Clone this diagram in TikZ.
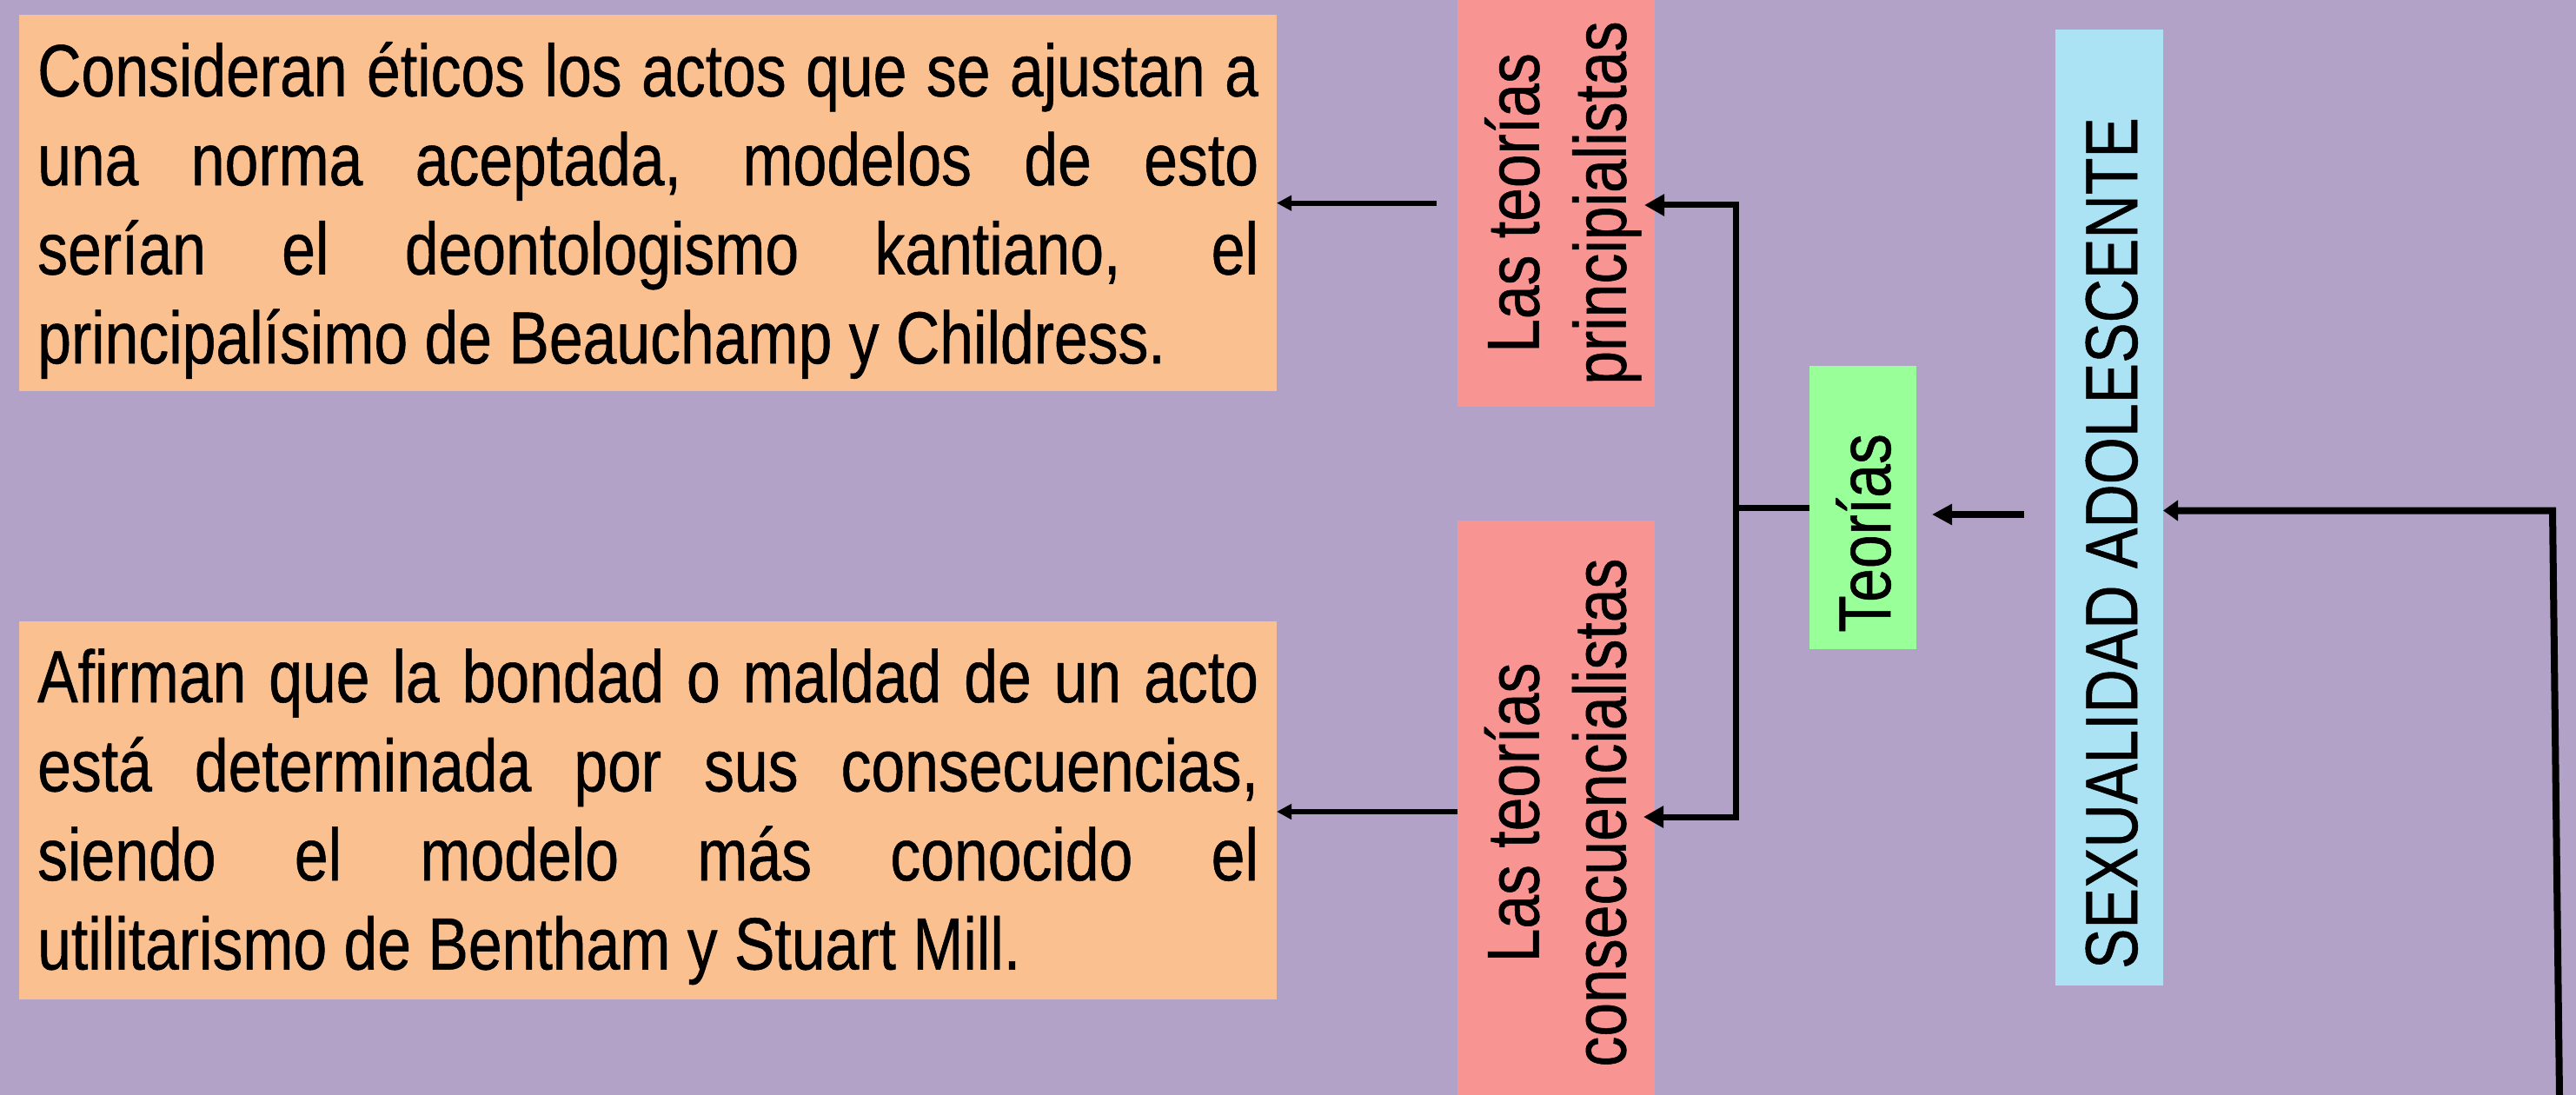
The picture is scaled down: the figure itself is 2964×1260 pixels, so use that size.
\documentclass[tikz,border=0pt]{standalone}
\usepackage{fontspec}
\setmainfont{Liberation Sans}[FakeStretch=0.82,FakeBold=0.6]
\usetikzlibrary{arrows.meta}
\definecolor{bgc}{RGB}{178,162,199}
\definecolor{orc}{RGB}{250,192,144}
\definecolor{pkc}{RGB}{248,148,146}
\definecolor{grc}{RGB}{153,255,153}
\definecolor{blc}{RGB}{172,227,244}
\tikzset{
  box/.style={rectangle, inner sep=0pt, outer sep=0pt, anchor=north west, draw=none},
  vtext/.style={rotate=90, anchor=base, inner sep=0pt, font=\fontsize{85pt}{100pt}\selectfont},
  htext/.style={anchor=base west, inner sep=0pt, font=\fontsize{85pt}{102.5pt}\selectfont},
  conn/.style={line width=7pt, line join=miter},
  bigtip/.tip={Triangle[length=23pt,width=24pt]},
  smallarr/.style={line width=6pt, -{Triangle[length=17pt,width=17pt]}},
}
\begin{document}
\begin{tikzpicture}[x=1pt,y=-1pt]
\useasboundingbox (0,0) rectangle (2964,1260);
\fill[bgc] (0,0) rectangle (2964,1260);
% boxes
\node[box, fill=orc, minimum width=1447pt, minimum height=433pt] (o1) at (22,17) {};
\node[box, fill=orc, minimum width=1447pt, minimum height=435pt] (o2) at (22,715) {};
\node[box, fill=pkc, minimum width=227pt, minimum height=468pt] (p1) at (1677,0) {};
\node[box, fill=pkc, minimum width=227pt, minimum height=672pt] (p2) at (1677,599) {};
\node[box, fill=grc, minimum width=123pt, minimum height=326pt] (g) at (2082,421) {};
\node[box, fill=blc, minimum width=124pt, minimum height=1100pt] (b) at (2365,34) {};
% texts
\node[htext] (o1t) at (43,110.7) {\parbox[t]{1405pt}{%
\makebox[1405pt][s]{Consideran éticos los actos que se ajustan a}\\
\makebox[1405pt][s]{una norma aceptada, modelos de esto}\\
\makebox[1405pt][s]{serían el deontologismo kantiano, el}\\
principalísimo de Beauchamp y Childress.}};
\node[htext] (o2t) at (43,808) {\parbox[t]{1405pt}{%
\makebox[1405pt][s]{Afirman que la bondad o maldad de un acto}\\
\makebox[1405pt][s]{está determinada por sus consecuencias,}\\
\makebox[1405pt][s]{siendo el modelo más conocido el}\\
utilitarismo de Bentham y Stuart Mill.}};
\node[vtext] (p1t) at (1770.7,233.5) {\parbox[t]{700pt}{\centering Las teorías\\principialistas}};
\node[vtext] (p2t) at (1770.5,935) {\parbox[t]{700pt}{\centering Las teorías\\consecuencialistas}};
\node[vtext] (gt) at (2175,613.5) {Teorías};
\node[vtext] (btx) at (2459,625) {SEXUALIDAD ADOLESCENTE};
% coordinates
\coordinate (rb) at (2945,1262);
\coordinate (rt) at (2937,587.5);
\coordinate (ys) at (0,592);
\coordinate (bk) at (1997,584.5);
\coordinate (kt) at (1997,236);
\coordinate (kb) at (1997,940);
\coordinate (ya) at (0,233.7);
\coordinate (yb) at (0,934);
% connectors
\draw[line width=8pt, line join=miter, -{Triangle[length=17pt,width=23pt]}] (rb) -- (rt) -- (b.east |- rt);
\draw[line width=8pt, -{Triangle[length=23pt,width=23pt]}] ([xshift=-36pt]b.west |- ys) -- ([xshift=18pt]g.east |- ys);
\draw[conn] (g.west |- bk) -- (bk);
\draw[conn, bigtip-bigtip] ([xshift=-12pt]p1.east |- kt) -- (kt) -- (kb) -- ([xshift=-13pt]p2.east |- kb);
\draw[smallarr] ([xshift=-24.3pt]p1.west |- ya) -- (o1.east |- ya);
\draw[smallarr] (p2.west |- yb) -- (o2.east |- yb);
\end{tikzpicture}
\end{document}
